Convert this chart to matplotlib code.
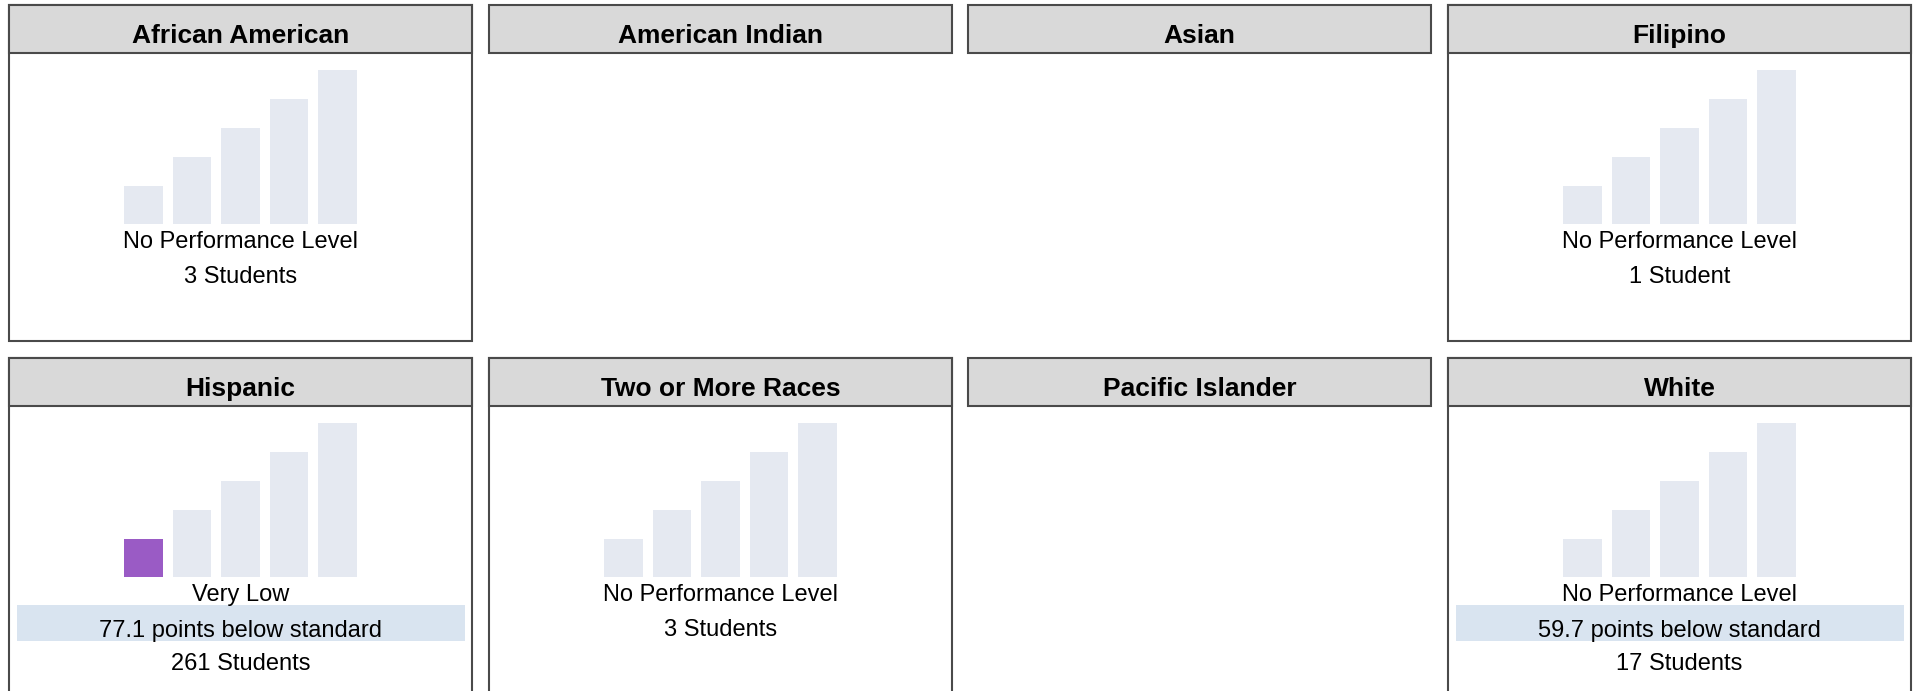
import matplotlib
matplotlib.use("Agg")
import matplotlib.pyplot as plt
from matplotlib.patches import Rectangle

plt.rcParams['font.family'] = ['Liberation Sans', 'DejaVu Sans']

# ---- data ----
groups = ["African American", "American Indian", "Asian", "Filipino",
          "Hispanic", "Two or More Races", "Pacific Islander", "White"]
has_data = [True, False, False, True, True, True, False, True]
level_labels = ["No Performance Level", None, None, "No Performance Level",
                "Very Low", "No Performance Level", None, "No Performance Level"]
distance_labels = [None, None, None, None,
                   "77.1 points below standard", None, None,
                   "59.7 points below standard"]
student_counts = [3, None, None, 1, 261, 3, None, 17]
highlight_level = [None, None, None, None, 0, None, None, None]
level_bar_heights = [38, 67, 96, 125, 154]

# ---- style ----
W, H = 1917, 691
DPI = 100
BAR_LIGHT = "#e5e9f1"
BAR_ON = "#9a5bc5"
HEADER = "#d9d9d9"
BORDER = "#4a4a4a"
BAND = "#d9e4f0"
panel_x0 = [9, 489, 968, 1448]
panel_y0 = [5, 358]
panel_w, panel_h, header_h = 463, 336, 48

fig = plt.figure(figsize=(W / DPI, H / DPI), dpi=DPI)
fig.patch.set_facecolor("white")

for i, name in enumerate(groups):
    r, c = divmod(i, 4)
    x0, y0 = panel_x0[c], panel_y0[r]
    ax = fig.add_axes([x0 / W, 1 - (y0 + panel_h) / H, panel_w / W, panel_h / H])
    ax.set_xlim(0, panel_w)
    ax.set_ylim(panel_h, 0)
    ax.axis("off")
    lw = 1.5
    if has_data[i]:
        ax.add_patch(Rectangle((0, 0), panel_w, panel_h, facecolor="white",
                               edgecolor=BORDER, lw=lw, clip_on=False))
    ax.add_patch(Rectangle((0, 0), panel_w, header_h, facecolor=HEADER,
                           edgecolor=BORDER, lw=lw, clip_on=False))
    ax.text(panel_w / 2, 38, name, ha="center", va="baseline",
            fontsize=19, fontweight="bold", color="black")
    if not has_data[i]:
        continue

    # bars
    cx = x0 + panel_w / 2
    step = 48.5
    bw = 38.5
    left = cx - 2.5 * step
    bottom = y0 + 219
    bax = fig.add_axes([left / W, 1 - bottom / H, 5 * step / W, 160 / H])
    bax.set_xlim(-0.5, 4.5)
    bax.set_ylim(0, 160)
    bax.axis("off")
    colors = [BAR_ON if highlight_level[i] == k else BAR_LIGHT
              for k in range(len(level_bar_heights))]
    bax.bar(range(len(level_bar_heights)), level_bar_heights,
            width=bw / step, color=colors, linewidth=0)

    ax.text(panel_w / 2, 243, level_labels[i], ha="center", va="baseline",
            fontsize=17, color="black")
    n = student_counts[i]
    stud = f"{n} Student" + ("" if n == 1 else "s")
    if distance_labels[i]:
        ax.add_patch(Rectangle((8, 247), panel_w - 15, 36, facecolor=BAND,
                               edgecolor="none"))
        ax.text(panel_w / 2, 279, distance_labels[i], ha="center",
                va="baseline", fontsize=17, color="black")
        ax.text(panel_w / 2, 312, stud, ha="center", va="baseline",
                fontsize=17, color="black")
    else:
        ax.text(panel_w / 2, 278, stud, ha="center", va="baseline",
                fontsize=17, color="black")

fig.savefig("out.png", dpi=DPI, facecolor="white")
